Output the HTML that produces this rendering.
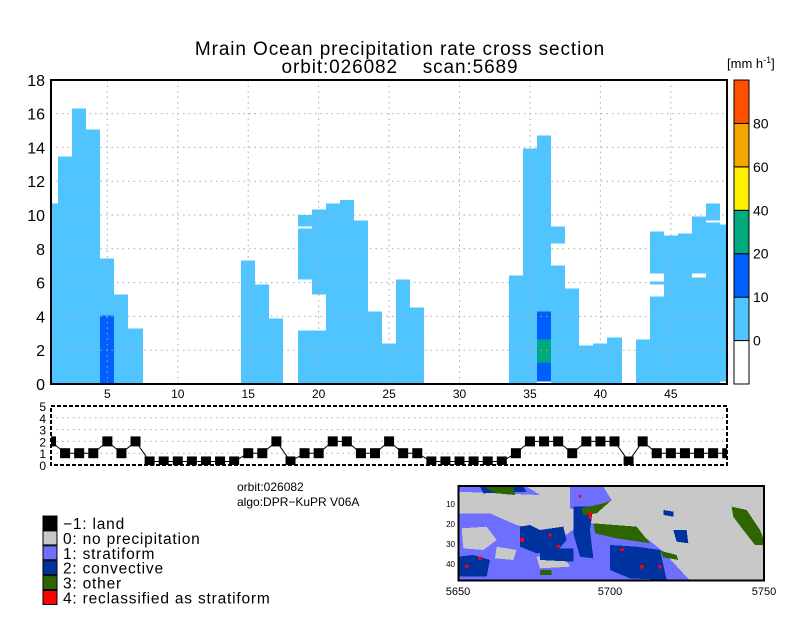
<!DOCTYPE html>
<html><head><meta charset="utf-8"><style>
body{margin:0;background:#fff;width:800px;height:618px;overflow:hidden}
svg{display:block;font-family:"Liberation Sans",sans-serif}
</style></head><body>
<svg id="root" width="800" height="618" viewBox="0 0 800 618">
<defs>
<clipPath id="mainclip"><rect x="51" y="80" width="676" height="304"/></clipPath>
<clipPath id="lowclip"><rect x="51" y="406" width="676" height="59"/></clipPath>
</defs>
<text x="400" y="55" text-anchor="middle" font-size="19" letter-spacing="0.9">Mrain Ocean precipitation rate cross section</text>
<text x="400" y="73" text-anchor="middle" font-size="19" letter-spacing="0.9" xml:space="preserve">orbit:026082    scan:5689</text>
<text x="727" y="68" font-size="13">[mm h<tspan font-size="9" dy="-5">-1</tspan><tspan dy="5">]</tspan></text>
<g id="main"></g>
<g id="cbar"></g>
<g id="low"></g>
<text x="237" y="491" font-size="12">orbit:026082</text>
<text x="237" y="506" font-size="12">algo:DPR−KuPR V06A</text>
<g id="legend"></g>
<g>
 <rect x="458" y="486" width="306" height="95" fill="#c8c8c8"/>
 <g transform="translate(430,480) scale(0.3333)" shape-rendering="crispEdges">
  <polygon fill="#6e6eff" points="85,100 180,100 260,135 330,150 400,170 470,120 540,160 650,175 700,215 760,280 780,300 85,300"/>
  <polygon fill="#6e6eff" points="420,20 520,20 545,60 480,100 420,85"/>
  <polygon fill="#6e6eff" points="85,20 290,20 330,45 200,40 85,35"/>
  <polygon fill="#c8c8c8" points="95,145 170,140 200,180 160,210 100,205"/>
  <polygon fill="#c8c8c8" points="200,200 260,210 250,240 195,235"/>
  <polygon fill="#c8c8c8" points="320,230 400,225 420,260 330,265"/>
  <polygon fill="#0033a0" points="270,140 300,135 330,150 400,140 410,180 380,215 320,220 270,200"/>
  <polygon fill="#0033a0" points="85,230 130,225 180,240 170,290 85,290"/>
  <polygon fill="#0033a0" points="430,80 490,80 480,150 490,235 450,230 430,160"/>
  <polygon fill="#0033a0" points="540,195 620,200 690,210 710,300 600,295 540,270"/>
  <polygon fill="#0033a0" points="150,20 280,20 290,35 160,40"/>
  <polygon fill="#0033a0" points="330,205 430,205 430,245 330,240"/>
  <polygon fill="#0033a0" points="700,90 730,95 730,110 700,105"/>
  <polygon fill="#0033a0" points="730,150 770,150 775,190 740,185"/>
  <polygon fill="#2d6600" points="490,130 620,140 660,190 560,175 495,160"/>
  <polygon fill="#2d6600" points="905,80 950,90 990,150 1000,175 1000,195 975,195 940,150 910,110"/>
  <polygon fill="#2d6600" points="160,20 250,20 255,45 200,40"/>
  <polygon fill="#2d6600" points="690,212 740,225 745,240 700,232"/>
  <polygon fill="#2d6600" points="455,85 520,70 545,60 500,100 460,105"/>
  <polygon fill="#2d6600" points="330,270 365,270 365,285 330,285"/>
  <g fill="#ff0000">
   <rect x="272" y="172" width="10" height="14"/><rect x="355" y="160" width="10" height="10"/><rect x="475" y="95" width="10" height="20"/><rect x="445" y="45" width="8" height="8"/><rect x="570" y="205" width="12" height="8"/><rect x="630" y="255" width="10" height="10"/><rect x="685" y="255" width="10" height="10"/><rect x="145" y="230" width="10" height="10"/><rect x="105" y="255" width="10" height="8"/><rect x="380" y="195" width="10" height="8"/>
  </g>
  <rect x="85" y="18" width="917" height="284" fill="none" stroke="#000" stroke-width="6"/>
 </g>
 <g font-size="8" text-anchor="end">
  <text x="455" y="507">10</text><text x="455" y="527">20</text><text x="455" y="547">30</text><text x="455" y="567">40</text>
 </g>
 <g font-size="11" text-anchor="middle">
  <text x="458" y="595">5650</text><text x="610" y="595">5700</text><text x="764" y="595">5750</text>
 </g>
</g>
</svg>
<script>
// ---- main cross-section data (bins 1..49) ----
const binTops = [10.67,13.45,16.3,15.05,7.42,5.29,3.29,0,0,0,0,0,0,0,7.3,5.88,3.87,0,10.0,10.32,10.67,10.9,9.66,4.28,2.39,6.17,4.52,0,0,0,0,0,0,6.41,13.93,14.7,9.31,5.64,2.27,2.39,2.74,0,2.62,9.01,8.8,8.9,9.9,10.67,9.43];
const gapBins = [19,19,20,37,44,44,47,48,49,36];
const gapLo =   [9.19,3.17,3.17,7.0,6.06,5.17,6.29,9.55,0,0];
const gapHi =   [9.33,6.18,5.29,8.3,6.53,5.88,6.53,9.66,0.16,0.16];
const segBins = [5,36,36,36];
const segLo =   [0,2.62,1.26,0.16];
const segHi =   [4.04,4.28,2.62,1.26];
const segClass= [2,2,3,2];
const xTicks = [5,10,15,20,25,30,35,40,45];
const yTicks = [0,2,4,6,8,10,12,14,16,18];
// ---- rain type data ----
const rainType = [2,1,1,1,2,1,2,0,0,0,0,0,0,0,1,1,2,0,1,1,2,2,1,1,2,1,1,0,0,0,0,0,0,1,2,2,2,1,2,2,2,0,2,1,1,1,1,1,1];
const lowTicks = [0,1,2,3,4,5];
// ---- colorbar ----
const cbColors = ["#ffffff","#50c4ff","#0060ff","#00aa7f","#fff000","#f5a500","#ff5000"];
const cbLabels = ["0","10","20","40","60","80"];
const legendColors = ["#000000","#c8c8c8","#6e6eff","#0033a0","#2d6600","#ff0000"];
const legendLabels = ["−1: land","0: no precipitation","1: stratiform","2: convective","3: other","4: reclassified as stratiform"];

const NS="http://www.w3.org/2000/svg";
function mk(tag,attrs,parent){const e=document.createElementNS(NS,tag);for(const k in attrs)e.setAttribute(k,attrs[k]);parent.appendChild(e);return e;}
const X=v=>51+(v-1)*14.0875;
const Y=v=>384-v*16.9;
const YL=v=>465-v*11.8;
const L=b=>Math.round(X(b-0.5));
const W=b=>Math.round(X(b+0.5))-Math.round(X(b-0.5));
const main=document.getElementById('main');
const bars=mk('g',{'clip-path':'url(#mainclip)','shape-rendering':'crispEdges'},main);
binTops.forEach((t,i)=>{ if(t<=0) return; const b=i+1;
 const r=mk('rect',{x:L(b),y:Y(t),width:W(b),height:Y(0)-Y(t),fill:'#50c4ff'},bars);
 
 
});
gapBins.forEach((b,i)=>{
 const r=mk('rect',{x:L(b),y:Y(gapHi[i]),width:W(b),height:Y(gapLo[i])-Y(gapHi[i]),fill:'#fff'},bars);
 
 
});
segBins.forEach((b,i)=>{
 const r=mk('rect',{x:L(b),y:Y(segHi[i]),width:W(b),height:Y(segLo[i])-Y(segHi[i]),fill:cbColors[segClass[i]]},bars);
 
 
});
const grid=mk('g',{stroke:'#aaa','stroke-width':1,'stroke-dasharray':'1.5,4'},main);


xTicks.forEach(v=>mk('line',{x1:X(v),x2:X(v),y1:80,y2:384},grid));
yTicks.forEach(v=>{ if(v>0&&v<18) mk('line',{x1:51,x2:727,y1:Y(v),y2:Y(v)},grid);});
const fr=mk('rect',{x:51,y:80,width:676,height:304,fill:'none',stroke:'#000','stroke-width':2},main);


xTicks.forEach(v=>{const t=mk('text',{x:X(v),y:398,'font-size':12,'text-anchor':'middle'},main);t.textContent=v;
 
 });
yTicks.forEach(v=>{const t=mk('text',{x:45,y:Y(v)+6,'font-size':16,'text-anchor':'end'},main);t.textContent=v;
 
 });
// colorbar
const cb=document.getElementById('cbar');
const cbTop=80,cbBot=384,segH=(cbBot-cbTop)/7;
cbColors.forEach((c,i)=>{const r=mk('rect',{x:734,y:cbBot-(i+1)*segH,width:15,height:segH,fill:c,stroke:'#000','stroke-width':1},cb);
 
 });
cbLabels.forEach((l,i)=>{const t=mk('text',{x:753,y:cbBot-(i+1)*segH+5,'font-size':14},cb);t.textContent=l;
 
 });
// lower panel
const low=document.getElementById('low');
const lg=mk('g',{stroke:'#aaa','stroke-dasharray':'1.5,4'},low);
lowTicks.forEach(v=>{ if(v>0&&v<5) mk('line',{x1:51,x2:727,y1:YL(v),y2:YL(v)},lg);});
const lowFrame=mk('rect',{x:51,y:406,width:676,height:59,fill:'none',stroke:'#000','stroke-width':2,'stroke-dasharray':'4,2'},low);


const lc=mk('g',{'clip-path':'url(#lowclip)'},low);
const pts=rainType.map((v,i)=>X(i+1)+','+YL(v+(v===0?0.3:0))).join(' ');
const pl=mk('polyline',{points:pts,fill:'none',stroke:'#000','stroke-width':1},lc);


rainType.forEach((v,i)=>{const r=mk('rect',{x:X(i+1)-5,y:YL(v+(v===0?0.3:0))-5,width:10,height:10,fill:'#000'},lc);
 
 });
lowTicks.forEach(v=>{const t=mk('text',{x:46,y:YL(v)+5,'font-size':12,'text-anchor':'end'},low);t.textContent=v;
 
 });
// legend
const leg=document.getElementById('legend');
legendColors.forEach((c,i)=>{
 const r=mk('rect',{x:43,y:516+i*14.9,width:14,height:14,fill:c,stroke:'#000','stroke-width':1},leg);
 
 
 const t=mk('text',{x:63,y:529+i*14.9,'font-size':15.5,'letter-spacing':'0.8'},leg);t.textContent=legendLabels[i];
 
 
});
</script>
</body></html>
